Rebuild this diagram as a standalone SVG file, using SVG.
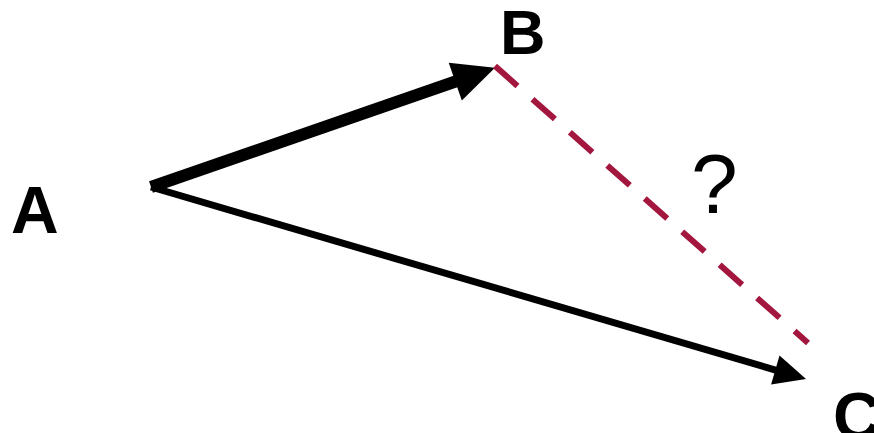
<svg xmlns="http://www.w3.org/2000/svg" width="874" height="433" viewBox="0 0 874 433">
  <style>
    .label { font-family: "Liberation Sans", Arial, sans-serif; font-weight: bold; fill: #000; }
    .q { font-family: "Liberation Sans", Arial, sans-serif; fill: #000; }
    .vec { stroke: #000; fill: none; stroke-linecap: butt; }
    .unknown { stroke: #A3173F; stroke-width: 6; stroke-dasharray: 30 20; fill: none; }
  </style>
  <defs>
    <!-- heads overlap the shaft end so the butt cap stays hidden -->
    <marker id="headBig" markerUnits="userSpaceOnUse" markerWidth="44" markerHeight="44" viewBox="0 0 44 44" refX="14" refY="22" orient="auto" overflow="visible">
      <path d="M0,2 L42,22 L0,42 Z" fill="#000"/>
    </marker>
    <marker id="headSmall" markerUnits="userSpaceOnUse" markerWidth="34" markerHeight="34" viewBox="0 0 34 34" refX="10" refY="17" orient="auto" overflow="visible">
      <path d="M0,2 L32,17 L0,32 Z" fill="#000"/>
    </marker>
  </defs>
  <rect width="874" height="433" fill="#fff"/>

  <g id="connectors">
    <line id="AB" class="vec" x1="151" y1="187" x2="468.5" y2="77" stroke-width="12" marker-end="url(#headBig)"/>
    <line id="AC" class="vec" x1="151" y1="187" x2="784.9" y2="372.8" stroke-width="7" marker-end="url(#headSmall)"/>
    <line id="BC" class="unknown" x1="495" y1="66" x2="808" y2="343"/>
    <text id="q" class="q" x="691" y="213" font-size="84">?</text>
  </g>

  <g id="A"><text class="label" x="11" y="233" font-size="66">A</text></g>
  <g id="B"><text class="label" x="500" y="54" font-size="63">B</text></g>
  <g id="C"><text class="label" x="833" y="439" font-size="66">C</text></g>
</svg>
